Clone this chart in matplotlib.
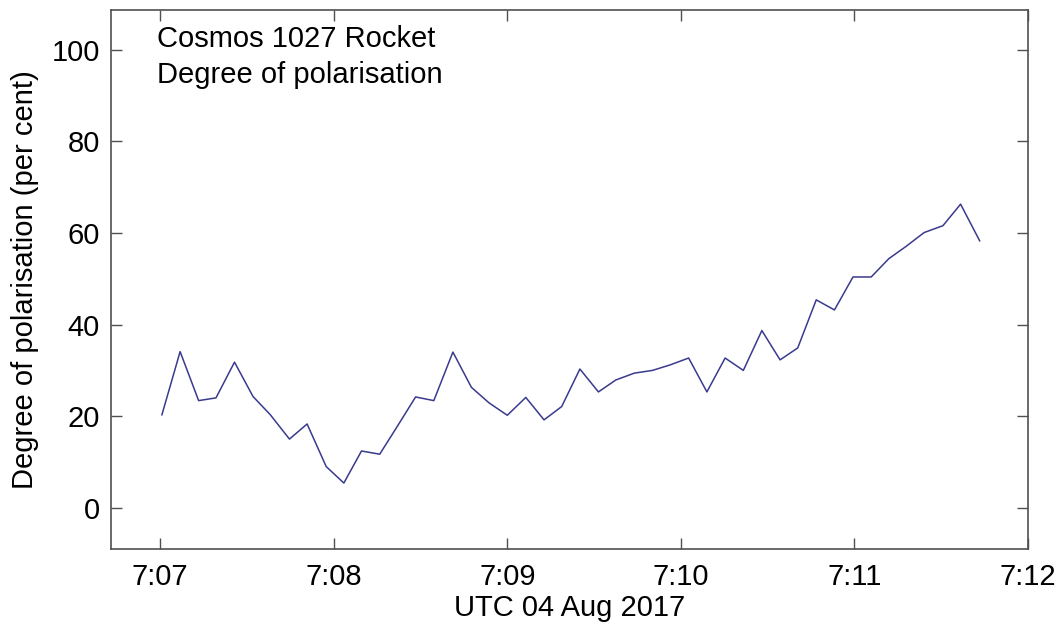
import datetime as dt
import matplotlib
matplotlib.use("Agg")
import matplotlib.pyplot as plt
import matplotlib.dates as mdates

# seconds after 07:07:00 UTC, 04 Aug 2017
t_sec = [0.6, 6.9, 13.3, 19.3, 25.7, 32.1, 38.1, 44.7, 50.8, 57.4,
         63.5, 69.6, 75.9, 82.3, 88.3, 94.6, 101.2, 107.6, 113.7, 120.0,
         126.4, 132.7, 138.8, 145.1, 151.5, 157.5, 163.9, 170.2, 176.3, 182.7,
         189.0, 195.3, 201.6, 208.0, 214.3, 220.4, 226.8, 233.1, 239.5, 245.8,
         251.9, 257.9, 264.1, 270.6, 276.7, 283.3]
# degree of polarisation (per cent)
pol = [20.3, 34.1, 23.4, 24.0, 31.8, 24.3, 20.3, 15.0, 18.3, 9.0,
       5.4, 12.4, 11.7, 18.1, 24.2, 23.4, 34.0, 26.3, 22.9, 20.2,
       24.1, 19.2, 22.1, 30.3, 25.3, 27.9, 29.4, 30.0, 31.2, 32.7,
       25.3, 32.7, 30.0, 38.7, 32.3, 34.9, 45.4, 43.2, 50.4, 50.4,
       54.4, 57.1, 60.1, 61.6, 66.3, 58.3]

t0 = dt.datetime(2017, 8, 4, 7, 7, 0)
times = [t0 + dt.timedelta(seconds=s) for s in t_sec]

plt.rcParams["font.family"] = ["Liberation Sans", "DejaVu Sans"]
fs = 21
spine_col = "#505050"

fig = plt.figure(figsize=(10.6, 6.28), dpi=100)
ax = fig.add_axes([0.1047, 0.1258, 0.8651, 0.8583])

ax.plot(times, pol, color="#3a3a8e", linewidth=1.1)

ax.set_xlim(t0 - dt.timedelta(seconds=17), t0 + dt.timedelta(seconds=300))
ax.set_ylim(-9, 108.7)
ax.set_yticks([0, 20, 40, 60, 80, 100])
ax.xaxis.set_major_locator(mdates.MinuteLocator())
ax.xaxis.set_major_formatter(mdates.DateFormatter("%-H:%M"))

ax.tick_params(direction="in", length=8, width=1, color=spine_col,
               top=True, right=True, labelsize=fs)
ax.tick_params(axis="x", pad=10)
ax.tick_params(axis="y", pad=8)
for s in ax.spines.values():
    s.set_color(spine_col)
    s.set_linewidth(1.2)

ax.set_xlabel("UTC 04 Aug 2017", fontsize=fs, labelpad=2)
ax.set_ylabel("Degree of polarisation (per cent)", fontsize=fs, labelpad=9)

ax.text(0.050, 0.931, "Cosmos 1027 Rocket", transform=ax.transAxes,
        fontsize=fs, va="baseline", ha="left")
ax.text(0.050, 0.8646, "Degree of polarisation", transform=ax.transAxes,
        fontsize=fs, va="baseline", ha="left")

fig.savefig("out.png", dpi=100)
